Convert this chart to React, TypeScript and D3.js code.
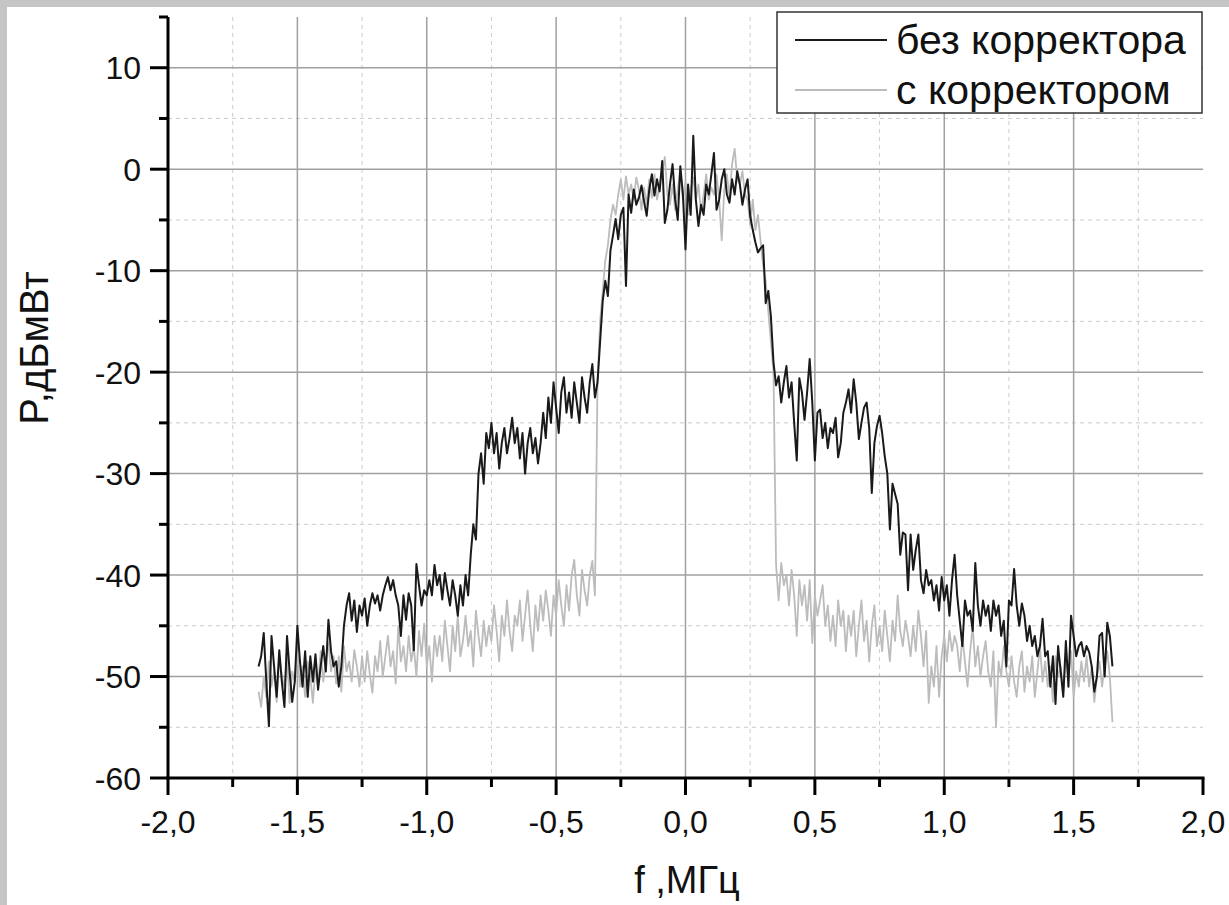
import React from "react";
import * as d3 from "d3";

// Frequency grid: first sample and spacing (MHz)
const FREQ_START = -1.65;
const FREQ_STEP = 0.01;

// Series "без корректора" (dBm), one value per frequency sample
const withoutCorrector: number[] = [
  -49, -48, -45.7, -50.5, -54.9, -46, -49, -52, -47.4, -50.5,
  -53, -46, -49.5, -52.5, -50.5, -45, -48.5, -51, -47.5, -52,
  -48, -50.5, -47.8, -51.3, -49, -47, -49.5, -44.4, -47.5, -49,
  -48.5, -51, -49, -45, -43, -41.8, -44.5, -42.5, -45.6, -43,
  -44, -42.3, -45, -43, -41.8, -42.8, -42, -43.5, -42, -41,
  -40.2, -41.5, -40.5, -42, -43, -46, -42, -44.4, -41.8, -43,
  -47.4, -38.9, -41, -43, -41.5, -42, -40.5, -42, -39, -41,
  -40, -42.4, -39.8, -41.5, -43, -40.5, -42, -44, -41, -43,
  -40, -42, -38, -35, -36.5, -30, -28, -31, -26, -27.5,
  -25, -28, -26, -29.5, -27, -25.5, -28, -26.5, -24.5, -27,
  -25.5, -28.5, -26, -30, -27, -25.5, -28, -26.5, -29, -27,
  -24, -26.5, -22.5, -25, -21, -23.5, -26, -22, -20.5, -24,
  -22, -24.5, -21, -23, -25, -20.5, -22.5, -24, -21, -19.2,
  -22.5, -21, -17, -13, -11, -12.5, -8, -6.5, -4.9, -6.9,
  -4.5, -3.8, -11.5, -2.5, -4.3, -2, -3.5, -2.8, -1.6, -3.2,
  -4.6, -2, -0.5, -2.6, -1, -2.2, 0.8, -5.3, -4, -1.5,
  0.5, -3, -5, 0.3, -2.5, -7.9, -1.5, -4.5, 3.3, -3,
  -5.6, -3.5, -4.5, -1.5, -2.5, -0.5, 1.6, -4, -3, -1,
  0, -2.5, -3.3, -1, -2.5, -0.2, -1.5, -3.5, -2, -1,
  -4.6, -6, -7.2, -8.2, -7.8, -7.5, -13.2, -12, -14.5, -19,
  -21.3, -20.4, -23, -21, -19.4, -22.5, -21, -25, -28.7, -20.6,
  -22, -24.7, -22, -18.7, -23, -28.7, -24, -23.7, -26.5, -25,
  -27.5, -25.5, -26, -24.5, -28.4, -27, -24, -23, -21.7, -24,
  -20.7, -23, -26.6, -25, -23.5, -23, -25.5, -31.9, -27, -25.3,
  -24.3, -26, -28.3, -30, -35.5, -31, -32, -33, -38, -35.8,
  -36, -41.5, -36, -39.5, -37.5, -36, -40.5, -41.8, -39.5, -41,
  -40.5, -42.5, -41, -43.5, -40.2, -42.5, -41, -44, -40.5, -38,
  -42, -44.5, -47, -42.5, -44, -43.5, -45.5, -38.8, -43, -45,
  -42.5, -44, -43, -45.5, -42.5, -44, -43, -46, -44.5, -49,
  -42.5, -43, -39.4, -43, -45, -42.8, -44, -46.5, -45, -47,
  -46, -48, -47, -44.3, -48, -47.5, -51, -48, -52.7, -47,
  -49.5, -52, -46.5, -51, -44, -46, -48, -47, -46.6, -48,
  -47, -47.6, -49, -51.5, -50, -46, -45.7, -50, -44.7, -46,
  -49,
];

// Series "с корректором" (dBm)
const withCorrector: number[] = [
  -51.5, -53, -50, -52, -48.5, -51, -49.5, -52.5, -48, -50,
  -51, -48, -52.6, -49.5, -50.5, -47.7, -51, -49, -52, -48.5,
  -50, -52.6, -49, -51, -47.5, -50.5, -48.5, -46.7, -49.5, -48,
  -50.7, -48, -51.5, -47, -49.5, -48.5, -50.5, -47.4, -49, -51,
  -48, -50.5, -47.5, -49.8, -51.6, -48, -49.5, -46.5, -50, -48,
  -46, -49, -47.5, -50.7, -45, -48.5, -47, -49.5, -46, -48.5,
  -47, -50, -45.5, -48, -44.8, -49, -47, -50.5, -46, -48,
  -46, -48.5, -44.5, -47, -49.5, -45, -47.5, -44, -48, -46.5,
  -44, -47, -45.5, -49, -43.5, -46, -48, -44.5, -47, -45,
  -46.5, -43, -45.5, -48.5, -44, -46, -42.5, -45.5, -47.5, -44,
  -45, -42.5, -46.5, -44, -41.5, -45, -47.5, -43, -45.5, -42,
  -44.5, -41.5, -43.5, -46, -42, -44, -40.5, -43, -45, -41,
  -43.5, -40, -38.5, -42, -44, -39.5, -41.5, -43, -40, -38.6,
  -42, -21, -15, -12, -9, -7.5, -5, -3.5, -4.5, -2.5,
  -1, -3, -0.7, -2.5, -1.5, -3, -0.8, -2, -4, -1.8,
  -3.5, -1, -2.8, -0.5, -3, -1.5, -0.2, 1.2, -2.5, -3.5,
  -1.5, -4, -2, 0, -3, -1.2, -4.5, -2, -0.8, -3,
  -1.5, -4.2, -2.5, -0.5, -3, -1.8, -2.5, -0.5, -3, -7,
  -2, -0.5, -2.8, 0.5, 2, -1, -1.5, -0.2, -2.5, -3,
  -5.5, -3, -6, -4.5, -7, -9.5, -11, -14, -17, -20,
  -39, -42.5, -38.8, -41, -40, -43, -39.5, -42, -46, -40.5,
  -43, -41, -44.5, -40.5, -46.7, -42, -44, -42.5, -41, -45,
  -43, -46.5, -44, -47, -42.5, -45, -43.5, -47.5, -44, -46,
  -43.5, -48, -45, -42.5, -46.5, -44.5, -48.5, -45, -43, -47,
  -45, -47.5, -43.5, -46, -48.5, -44.5, -46.5, -42, -45.5, -47,
  -44.5, -46, -48, -45, -47.5, -43.5, -46, -49, -45.5, -52.6,
  -49, -51, -47, -52, -48, -46, -48.5, -45.5, -47.5, -46,
  -47, -49.5, -46, -48.5, -51, -47.5, -45, -49, -47, -50,
  -48, -46.5, -49.5, -51, -47.5, -55, -48.5, -50, -47, -49.5,
  -51, -48, -50.5, -52, -49, -47.5, -51.5, -49, -50.5, -48,
  -52, -49.5, -47, -50.5, -48.5, -51, -49, -52.5, -48, -50,
  -49, -51.5, -48, -50, -47.5, -52, -49.5, -51, -48.5, -50.5,
  -48, -51, -49, -52.5, -50, -48.5, -51, -49, -47.5, -50,
  -54.5,
];

const xMajorTicks = [-2.0, -1.5, -1.0, -0.5, 0.0, 0.5, 1.0, 1.5, 2.0];
const xMinorTicks = [-1.75, -1.25, -0.75, -0.25, 0.25, 0.75, 1.25, 1.75];
const yMajorTicks = [-60, -50, -40, -30, -20, -10, 0, 10];
const yMinorTicks = [-55, -45, -35, -25, -15, -5, 5, 15];

const seriesNames = ["без корректора", "с корректором"];
const xTitle = "f ,МГц";
const yTitle = "P,дБмВт";

const W = 1229;
const H = 905;
const FONT = "Arial, 'Liberation Sans', sans-serif";

export default function App() {
  const x = d3.scaleLinear().domain([-2, 2]).range([168, 1203]);
  const y = d3.scaleLinear().domain([-60, 15]).range([778, 17]);

  const toPts = (vals: number[]) =>
    vals.map((v, i) => [FREQ_START + i * FREQ_STEP, v] as [number, number]);

  const line = d3
    .line<[number, number]>()
    .x((d) => x(d[0]))
    .y((d) => y(d[1]));

  const fmtX = (v: number) => v.toFixed(1).replace(".", ",");

  const x0 = x(-2);
  const x1 = x(2);
  const yTop = y(15);
  const yBot = y(-60);

  return (
    <svg
      width={W}
      height={H}
      style={{ position: "absolute", left: 0, top: 0, display: "block" }}
      fontFamily={FONT}
    >
      <rect x={0} y={0} width={W} height={H} fill="#c5c5c5" />
      <rect x={7} y={7} width={W - 7} height={H - 7} fill="#ffffff" />

      {/* minor grid */}
      {xMinorTicks.map((t) => (
        <line key={"xm" + t} x1={x(t)} x2={x(t)} y1={yTop} y2={yBot}
          stroke="#cccccc" strokeWidth={1} strokeDasharray="4,4" />
      ))}
      {yMinorTicks.filter((t) => t < 15).map((t) => (
        <line key={"ym" + t} x1={x0} x2={x1} y1={y(t)} y2={y(t)}
          stroke="#cccccc" strokeWidth={1} strokeDasharray="4,4" />
      ))}
      {/* major grid */}
      {xMajorTicks.filter((t) => t > -2 && t < 2).map((t) => (
        <line key={"xg" + t} x1={x(t)} x2={x(t)} y1={yTop} y2={yBot}
          stroke="#a0a0a0" strokeWidth={1.5} />
      ))}
      {yMajorTicks.filter((t) => t > -60).map((t) => (
        <line key={"yg" + t} x1={x0} x2={x1} y1={y(t)} y2={y(t)}
          stroke="#a0a0a0" strokeWidth={1.5} />
      ))}

      {/* data */}
      <path d={line(toPts(withCorrector)) || ""} fill="none" stroke="#bcbcbc" strokeWidth={1.8} strokeLinejoin="round" />
      <path d={line(toPts(withoutCorrector)) || ""} fill="none" stroke="#1a1a1a" strokeWidth={2} strokeLinejoin="round" />

      {/* axes */}
      <line x1={x0} x2={x0} y1={yTop} y2={yBot + 1.5} stroke="#000" strokeWidth={3} />
      <line x1={x0 - 1.5} x2={x1 + 1.5} y1={yBot} y2={yBot} stroke="#000" strokeWidth={3} />
      {yMajorTicks.map((t) => (
        <line key={"yt" + t} x1={x0 - 18} x2={x0} y1={y(t)} y2={y(t)} stroke="#000" strokeWidth={3} />
      ))}
      {yMinorTicks.map((t) => (
        <line key={"ytm" + t} x1={x0 - 9} x2={x0} y1={y(t)} y2={y(t)} stroke="#000" strokeWidth={3} />
      ))}
      {xMajorTicks.map((t) => (
        <line key={"xt" + t} x1={x(t)} x2={x(t)} y1={yBot} y2={yBot + 17} stroke="#000" strokeWidth={3} />
      ))}
      {xMinorTicks.map((t) => (
        <line key={"xtm" + t} x1={x(t)} x2={x(t)} y1={yBot} y2={yBot + 9} stroke="#000" strokeWidth={3} />
      ))}

      {/* tick labels */}
      {yMajorTicks.map((t) => (
        <text key={"yl" + t} x={141} y={y(t) + 11.5} textAnchor="end" fontSize={32} fill="#111">
          {String(t)}
        </text>
      ))}
      {xMajorTicks.map((t) => (
        <text key={"xl" + t} x={x(t)} y={833} textAnchor="middle" fontSize={32} fill="#111">
          {fmtX(t)}
        </text>
      ))}

      {/* axis titles */}
      <text x={687} y={893} textAnchor="middle" fontSize={38} fill="#111">{xTitle}</text>
      <text transform="translate(48,348) rotate(-90)" textAnchor="middle" fontSize={40} fill="#111">{yTitle}</text>

      {/* legend */}
      <rect x={777} y={12} width={425} height={101} fill="#fff" stroke="#333" strokeWidth={1.5} />
      <line x1={795} x2={887} y1={40} y2={40} stroke="#1a1a1a" strokeWidth={1.8} />
      <line x1={795} x2={887} y1={90} y2={90} stroke="#bcbcbc" strokeWidth={1.8} />
      <text x={896} y={54} fontSize={41} fill="#111">{seriesNames[0]}</text>
      <text x={896} y={104} fontSize={41} fill="#111">{seriesNames[1]}</text>
    </svg>
  );
}
